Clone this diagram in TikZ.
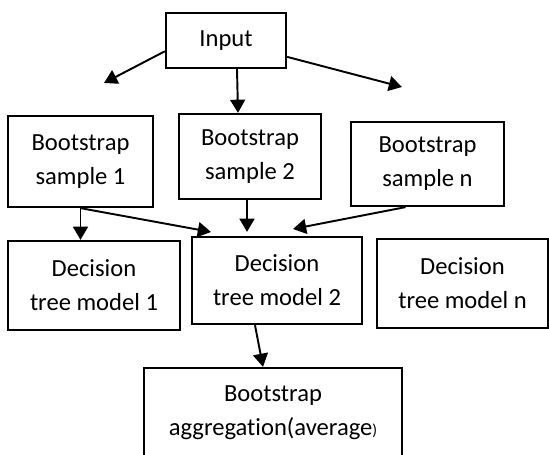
\documentclass[tikz,border=0pt]{standalone}
\usepackage{fontspec}
\setmainfont{Carlito}[Ligatures=NoCommon]
\usetikzlibrary{arrows.meta,calc}

\tikzset{
	box/.style={draw,line width=1.3pt,align=center,inner sep=0pt,font=\fontsize{14}{19.4}\selectfont},
	arr/.style={line width=1.1pt,-{Triangle[length=7.5pt,width=8.5pt]}}
}

\begin{document}
\begin{tikzpicture}[x=0.02cm,y=-0.02cm]
	\useasboundingbox (0,0) rectangle (549,455);
	\node[box,minimum width=2.4cm,minimum height=1.1cm] (In) at (226,40.5) {Input};
	\node[box,minimum width=2.9cm,minimum height=1.82cm] (S1) at (80.5,161.5) {Bootstrap\\sample 1};
	\node[box,minimum width=2.84cm,minimum height=1.7cm] (S2) at (250,156.5) {Bootstrap\\sample 2};
	\node[box,minimum width=3.06cm,minimum height=1.68cm] (Sn) at (427.5,164) {Bootstrap\\sample n};
	\node[box,minimum width=3.44cm,minimum height=1.78cm] (D1) at (94,285.5) {Decision\\tree model 1};
	\node[box,minimum width=3.4cm,minimum height=1.74cm] (D2) at (277,280.5) {Decision\\tree model 2};
	\node[box,minimum width=3.42cm,minimum height=1.78cm] (Dn) at (462.5,283.5) {Decision\\tree model n};
	\node[box,minimum width=5.16cm,minimum height=1.8cm] (Agg) at (273,413) {Bootstrap\\aggregation(average{\small )}};
	% free ends of the arrows
	\coordinate (L) at (104,83);
	\coordinate (R) at (402,87);
	\coordinate (T1) at (211,232);
	\coordinate (T2) at (293,229);
	\draw[arr] (In.190) -- (L);
	\draw[arr] ($(In.south)+(11,0)$) -- ($(S2.north)+(-12,0)$);
	\draw[arr] (In.-15) -- (R);
	\draw[arr] (S1.south) -- (S1.south |- D1.north);
	\draw[arr] (S1.south) -- (T1);
	\draw[arr] ($(S2.south)+(-3,0)$) -- ($(S2.south |- D2.north)+(-3,-4)$);
	\draw[arr] ($(Sn.south)+(-22,0)$) -- (T2);
	\draw[arr] ($(D2.south)+(-22,0)$) -- ($(Agg.north)+(-10,0)$);
\end{tikzpicture}
\end{document}
